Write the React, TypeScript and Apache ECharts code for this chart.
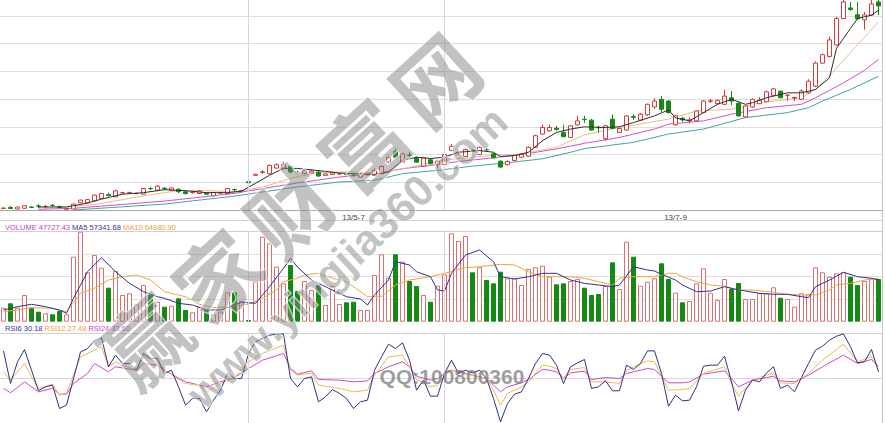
import React, { useEffect, useRef } from 'react';
import * as echarts from 'echarts';

// ---------- price (candles) ----------
const opens = [
  0.15, 0.25, 0.1, 0.17, 0.3, 0.4, 0.35, 0.47, 0.35, 0.08,
  0.1, 0.73, 0.73, 0.93, 1.17, 1.55, 1.33, 1.73, 1.73, 1.65,
  1.6, 2.17, 2.0, 2.2, 2.0, 2.1, 1.83, 1.75, 1.67, 1.73,
  1.43, 1.7, 1.67, 2.07, 1.93, 2.85, 3.5, 3.8, 3.67, 4.23,
  4.23, 4.4, 3.8, 3.67, 3.73, 3.83, 3.5, 3.6, 3.65, 3.6,
  3.52, 3.33, 3.55, 3.5, 3.67, 4.83, 5.9, 4.83, 5.55, 5.27,
  4.43, 5.07, 4.6, 4.6, 6.0, 5.8, 5.4, 6.03, 5.6, 6.1,
  5.67, 4.93, 4.57, 5.0, 5.33, 5.43, 6.33, 7.67, 8.0, 8.25,
  7.83, 7.33, 8.6, 9.15, 9.07, 8.33, 7.2, 9.17, 7.83, 8.07,
  9.45, 9.07, 9.6, 10.4, 11.17, 11.0, 8.6, 9.25, 9.0, 9.0,
  9.83, 10.97, 10.73, 10.67, 11.33, 10.77, 9.4, 10.4, 10.73, 10.93,
  11.57, 12.0, 11.57, 11.3, 11.17, 11.83, 12.5, 14.83, 15.5, 16.67,
  19.33, 20.4, 19.7, 19.2, 19.67, 21.0,
];
const closes = [
  0.2, 0.15, 0.3, 0.43, 0.25, 0.38, 0.37, 0.45, 0.25, 0.1,
  0.6, 1.0, 1.05, 1.5, 1.67, 1.45, 1.93, 1.75, 1.76, 1.67,
  2.17, 2.15, 2.4, 2.13, 2.23, 1.85, 1.67, 1.77, 1.93, 1.6,
  1.77, 1.73, 2.17, 2.05, 1.97, 2.75, 3.6, 3.85, 4.5, 4.57,
  4.6, 3.83, 3.77, 4.0, 3.93, 3.43, 3.65, 3.77, 3.67, 3.58,
  3.5, 3.6, 3.6, 4.0, 4.4, 5.33, 5.33, 5.67, 5.53, 4.83,
  5.27, 4.67, 4.93, 5.6, 6.43, 5.83, 6.1, 5.95, 6.33, 6.07,
  5.27, 4.33, 4.9, 5.5, 5.6, 6.33, 7.5, 8.33, 8.33, 8.13,
  7.4, 8.5, 9.0, 9.12, 8.07, 8.3, 8.5, 8.23, 8.23, 9.5,
  9.35, 9.67, 10.67, 11.0, 10.17, 9.83, 9.5, 9.1, 9.1, 10.0,
  11.0, 11.03, 11.07, 11.5, 11.0, 9.5, 10.5, 11.17, 11.07, 11.93,
  12.23, 11.33, 11.6, 11.35, 12.0, 13.0, 14.83, 15.67, 17.17, 19.33,
  21.0, 20.25, 19.3, 19.7, 20.8, 20.6,
];
const lows = [
  0.1, 0.1, 0.05, 0.15, 0.2, 0.17, 0.15, 0.3, 0.2, 0.05,
  0.05, 0.7, 0.7, 0.9, 1.15, 1.4, 1.3, 1.65, 1.65, 1.6,
  1.57, 2.0, 1.95, 2.05, 1.97, 1.7, 1.55, 1.65, 1.6, 1.55,
  1.4, 1.65, 1.63, 1.8, 1.87, 2.7, 3.45, 3.65, 3.6, 4.2,
  4.2, 3.7, 3.55, 3.6, 3.7, 3.35, 3.45, 3.55, 3.55, 3.5,
  3.35, 3.3, 3.5, 3.45, 3.6, 4.8, 5.25, 4.8, 5.3, 4.8,
  4.4, 4.6, 4.2, 4.55, 5.95, 5.6, 5.35, 5.85, 5.55, 5.95,
  5.2, 4.3, 4.5, 4.95, 5.3, 5.4, 6.3, 7.6, 7.9, 8.0,
  7.35, 7.3, 8.55, 8.8, 8.0, 7.8, 7.0, 8.2, 7.8, 8.0,
  9.1, 9.0, 9.5, 10.2, 9.9, 9.75, 8.5, 8.9, 8.75, 8.95,
  9.8, 10.8, 10.7, 10.6, 10.6, 9.45, 9.35, 10.35, 10.7, 10.9,
  11.53, 11.3, 11.0, 11.0, 11.1, 11.75, 12.4, 14.75, 15.4, 16.6,
  19.25, 20.1, 19.2, 18.2, 19.6, 19.67,
];
const highs = [
  0.25, 0.4, 0.35, 0.5, 0.35, 0.6, 0.5, 0.6, 0.45, 0.15,
  0.65, 1.05, 1.1, 1.55, 1.7, 1.75, 2.05, 1.85, 1.85, 1.75,
  2.2, 2.35, 2.5, 2.3, 2.27, 2.15, 1.9, 1.85, 2.0, 1.8,
  1.8, 1.8, 2.2, 2.15, 2.0, 2.9, 3.65, 4.05, 4.6, 4.7,
  4.85, 4.45, 4.0, 4.05, 4.05, 3.9, 3.7, 3.85, 3.75, 3.65,
  3.65, 3.65, 3.65, 4.2, 4.5, 5.4, 6.2, 5.75, 5.85, 5.4,
  5.3, 5.15, 5.05, 5.65, 6.65, 6.05, 6.2, 6.1, 6.4, 6.25,
  5.75, 5.0, 5.0, 5.55, 5.7, 6.4, 7.6, 8.6, 8.6, 8.5,
  8.6, 8.55, 9.5, 9.5, 9.2, 8.5, 8.6, 9.65, 8.3, 9.55,
  9.65, 9.8, 10.75, 11.3, 11.5, 11.1, 9.6, 9.4, 9.35, 10.05,
  11.1, 11.2, 11.15, 12.15, 12.0, 10.85, 10.55, 11.25, 11.4, 12.05,
  12.3, 12.05, 11.65, 11.45, 12.2, 13.2, 15.0, 15.8, 17.5, 19.5,
  21.5, 21.0, 21.0, 20.0, 21.3, 21.3,
];

// moving averages: [bar index, value]
const ma5: [number, number][] = [
  [5, 0.3], [9, 0.3], [12, 0.7], [14, 1.1], [17, 1.6], [20, 1.75], [23, 2.05], [26, 1.95], [29, 1.75],
  [32, 1.75], [34, 1.9], [36, 2.7], [38, 3.5], [40, 4.2], [42, 4.2], [46, 3.9], [48, 3.73], [53, 3.6],
  [55, 3.83], [57, 5.0], [59, 5.33], [61, 5.2], [63, 5.33], [65, 5.83], [68, 6.0], [70, 5.83], [71, 5.4],
  [73, 5.5], [75, 5.83], [77, 7.0], [79, 7.83], [81, 8.17], [83, 8.4], [86, 8.33], [88, 8.4], [90, 8.83],
  [93, 9.5], [95, 10.1], [96, 9.3], [98, 9.0], [100, 9.83], [102, 10.67], [104, 11.17], [106, 10.67],
  [107, 10.83], [109, 11.33], [112, 11.83], [114, 11.83], [116, 12.17], [118, 13.33], [119, 16.33],
  [121, 18.33], [122, 19.33], [124, 19.67], [125, 20.17],
];
const ma10: [number, number][] = [
  [8, 0.25], [13, 0.55], [17, 1.05], [21, 1.55], [25, 1.95], [29, 1.95], [33, 1.85], [37, 2.3], [41, 3.2],
  [45, 3.8], [50, 3.85], [54, 3.7], [58, 4.3], [62, 4.9], [66, 5.3], [70, 5.5], [74, 5.67], [79, 6.33],
  [83, 7.6], [88, 8.33], [95, 9.17], [99, 10.0], [104, 10.17], [108, 10.83], [114, 11.33], [116, 12.17],
  [119, 14.33], [122, 16.67], [125, 19.0],
];
const ma20: [number, number][] = [
  [5, 0.07], [10, 0.17], [23, 0.9], [33, 1.67], [35, 1.93], [42, 2.73], [48, 3.33], [53, 3.67], [57, 4.17],
  [61, 4.5], [65, 4.9], [70, 5.27], [74, 5.6], [79, 6.17], [83, 6.73], [88, 7.33], [93, 8.17], [95, 8.67],
  [100, 9.0], [104, 9.67], [109, 10.33], [114, 10.67], [116, 11.33], [120, 12.83], [123, 14.1], [125, 15.2],
];
const ma60: [number, number][] = [
  [10, 0.0], [23, 0.6], [33, 1.4], [42, 2.33], [48, 2.83], [53, 3.0], [57, 3.67], [62, 4.0], [67, 4.43],
  [72, 4.77], [77, 5.17], [81, 5.83], [83, 6.2], [90, 6.83], [95, 7.67], [100, 8.17], [106, 9.33],
  [112, 9.83], [115, 10.33], [117, 11.0], [121, 12.17], [125, 13.5],
];

// ---------- volume ----------
const volumes = [
  21000, 27600, 21000, 40000, 21000, 15000, 12600, 11100, 16050, 11100,
  97500, 135000, 74100, 100050, 81000, 51000, 76050, 40050, 42600, 26100,
  55050, 40050, 30000, 22500, 24000, 35100, 17550, 14100, 22500, 17550,
  11100, 15000, 44100, 44100, 31050, 2550, 60000, 127500, 117600, 82500,
  57600, 85050, 46050, 61050, 47550, 55050, 25050, 53550, 26550, 29100,
  30000, 17550, 17550, 70050, 101100, 66000, 101100, 90000, 61050, 53550,
  40050, 30000, 54000, 71100, 132600, 121050, 128550, 74100, 81600, 62550,
  57600, 75000, 65100, 65100, 55050, 79050, 81600, 84000, 67500, 56100,
  57600, 61050, 64050, 51000, 40050, 41550, 53550, 89100, 49050, 120000,
  97500, 54000, 60000, 65100, 87600, 64050, 43500, 29100, 31050, 57600,
  80100, 43500, 32550, 64050, 49050, 58050, 34050, 34050, 42600, 42600,
  51600, 36000, 34050, 22500, 42600, 41550, 81600, 74100, 67500, 72600,
  74100, 67500, 55050, 61050, 65100, 64050,
];
const volMa5: [number, number][] = [
  [0, 17550], [2, 22500], [4, 26100], [6, 22500], [8, 17550], [9, 12600], [10, 35100], [12, 75000],
  [14, 96000], [16, 75000], [18, 57600], [20, 45000], [22, 37500], [23, 35100], [25, 27600], [27, 25050],
  [29, 17550], [31, 17550], [33, 25050], [34, 29100], [36, 27600], [38, 52500], [40, 80100], [41, 95100],
  [42, 82000], [44, 62550], [45, 57600], [47, 47550], [49, 37500], [51, 34050], [52, 25050], [53, 40050],
  [55, 62550], [56, 90000], [58, 85050], [59, 75000], [61, 67500], [62, 47550], [63, 46050], [64, 72600],
  [66, 100050], [68, 107550], [70, 90000], [71, 67500], [73, 64050], [75, 67500], [77, 72600], [79, 72600],
  [81, 62550], [83, 57500], [85, 55050], [87, 52500], [88, 55050], [90, 82500], [92, 77550], [93, 76050],
  [94, 71100], [96, 62550], [97, 55050], [99, 45000], [101, 46050], [103, 52500], [105, 47550], [106, 46050],
  [108, 42600], [110, 41100], [112, 41100], [114, 37500], [115, 36000], [116, 52500], [118, 62550],
  [120, 74100], [122, 67500], [124, 65100], [125, 62550],
];
const volMa10: [number, number][] = [
  [0, 15000], [2, 17550], [4, 21000], [7, 20100], [9, 15000], [11, 42600], [13, 50100], [15, 62550],
  [17, 67500], [19, 70050], [21, 62550], [23, 45000], [26, 37500], [28, 26100], [30, 21000], [32, 22500],
  [35, 26100], [37, 35100], [39, 47550], [40, 60000], [42, 65100], [43, 70050], [45, 72600], [47, 65100],
  [49, 60000], [52, 37500], [54, 37500], [56, 55050], [58, 62550], [61, 67500], [63, 72600], [66, 81000],
  [68, 82500], [71, 86100], [73, 85050], [75, 75000], [77, 67500], [79, 67500], [81, 67500], [83, 65100],
  [85, 60000], [87, 55050], [88, 65100], [90, 67500], [93, 67500], [95, 72600], [96, 72600], [97, 67500],
  [99, 60000], [101, 55050], [103, 53100], [105, 47550], [107, 47550], [110, 44100], [112, 41100],
  [114, 40050], [116, 40050], [118, 47550], [119, 55050], [121, 57600], [123, 62550], [125, 65100],
];

// ---------- RSI ----------
const rsi6 = [
  80.6, 44.1, 68.3, 82.1, 59, 36, 40.4, 42.3, 16.2, 20,
  49.7, 79.5, 83.2, 91.8, 95.5, 62.8, 75.8, 66.5, 66.5, 59,
  77.7, 72.1, 72.1, 55.3, 59, 40.4, 20, 27.4, 27.4, 12.5,
  25.5, 36.7, 55.3, 49.7, 49.7, 77.7, 90.7, 94.4, 98.1, 99.3,
  99.3, 49.7, 40.4, 49.7, 51.6, 23.7, 29.2, 37.4, 33, 27.4,
  16.2, 23.7, 25.5, 59, 73.9, 88.1, 83.2, 89.6, 70.2, 36.7,
  47.9, 30, 30, 55.3, 70.2, 55.3, 59, 56, 59, 49.7,
  27.4, 1.3, 21.8, 32.2, 34.8, 49.7, 66.5, 77.7, 75.8, 64.6,
  44.1, 62.8, 67.2, 71, 38.6, 40.4, 47.1, 36, 36, 64.6,
  59.8, 66.5, 80.6, 80.6, 55.3, 18.8, 31.1, 24.8, 25.5, 40.4,
  63.5, 64.6, 64.6, 74.7, 46, 13.6, 36.7, 47.9, 46, 56,
  62.8, 38.6, 42.3, 34.8, 50.8, 66.5, 81.4, 85.8, 92.6, 97,
  99.5, 85.1, 67.2, 68.3, 82.1, 57.2,
];
const rsi12: [number, number][] = [
  [0, 57.2], [1, 47.9], [3, 66.5], [4, 51.6], [5, 38.6], [7, 43.3], [8, 31.1], [9, 33], [11, 73.9],
  [14, 85.1], [15, 62.8], [16, 68.3], [19, 59], [20, 74.7], [22, 68.3], [23, 59], [26, 44.1], [28, 42.3],
  [29, 34.8], [31, 44.1], [33, 50.8], [35, 68.3], [37, 77.7], [40, 87], [41, 59], [42, 53.4], [44, 56],
  [45, 42.3], [48, 38.6], [50, 34.8], [52, 36.7], [53, 53.4], [55, 73.9], [57, 75.8], [58, 62.8],
  [59, 48.6], [61, 40.4], [62, 42.3], [63, 53.4], [64, 59], [67, 53.4], [69, 49.7], [70, 36.7],
  [71, 19.9], [72, 33], [74, 40.4], [75, 46], [77, 64.6], [78, 63.5], [79, 60.9], [80, 49.7], [81, 59.8],
  [83, 62], [84, 46], [86, 46], [88, 44.1], [89, 59], [92, 69.5], [93, 68.3], [95, 36.7], [97, 37.4],
  [98, 38.6], [100, 55.3], [103, 62.8], [104, 44.1], [105, 30], [107, 47.9], [109, 53.4], [110, 56],
  [111, 44.9], [113, 44.1], [115, 55.3], [117, 70.2], [120, 88.1], [122, 68.3], [124, 73.9], [125, 62.8],
];
const rsi24: [number, number][] = [
  [0, 38.6], [1, 33.8], [3, 46], [5, 34.8], [7, 38.6], [8, 32.2], [9, 32.2], [10, 44.1], [12, 55.3],
  [13, 66.5], [15, 57.2], [16, 62.8], [19, 59], [20, 66.5], [22, 64.6], [23, 59], [26, 46], [28, 42.3],
  [29, 40.4], [31, 46], [33, 50.8], [35, 60.9], [37, 70.2], [40, 77.7], [41, 61], [42, 54.6], [44, 58.3],
  [45, 48.6], [48, 47.9], [50, 46], [52, 47.1], [53, 55.3], [55, 62.8], [57, 68.3], [58, 62.8], [59, 52.3],
  [61, 47.9], [62, 49.7], [63, 55.3], [64, 59], [67, 53.4], [69, 49.7], [70, 42.3], [71, 34.8], [72, 40.4],
  [74, 44.9], [75, 48.6], [77, 59.8], [78, 59], [79, 57.2], [80, 49.7], [81, 56], [83, 58], [84, 48.6],
  [86, 50.8], [88, 49.7], [89, 55.3], [92, 60.9], [93, 59.8], [95, 44.9], [97, 44.9], [98, 46],
  [100, 54.6], [103, 58.3], [104, 49.7], [105, 40.4], [107, 47.9], [109, 50.8], [110, 52.3], [111, 47.1],
  [113, 46], [115, 53.4], [117, 62.8], [120, 75.8], [122, 66.5], [124, 71], [125, 62.8],
];

// ---------- axis texts ----------
const categories = opens.map((_, i) => String(i));
const xTickLabels: Record<number, string> = { 50: '13/5-7', 96: '13/7-9' };
const verticalGridBars = [35, 63];
const volumeLegend = { volume: 'VOLUME 47727.43', ma5: 'MA5 57341.68', ma10: 'MA10 64880.90' };
const rsiLegend = { r6: 'RSI6 30.18', r12: 'RSI12 27.48', r24: 'RSI24 33.60' };
const watermarkChars = ['赢', '家', '财', '富', '网'];
const watermarkUrl = 'www.yingjia360.com';
const watermarkQQ = 'QQ:100800360';

const UP = '#d43c3c';
const UP_VOL = '#d97070';
const DOWN = '#148a14';
const FONT = '"Liberation Sans", Arial, sans-serif';

export default function App() {
  const ref = useRef<HTMLDivElement>(null);
  useEffect(() => {
    const chart = echarts.init(ref.current!, null, { renderer: 'svg' });
    const W = 882;
    const vMark = {
      silent: true,
      symbol: ['none', 'none'],
      label: { show: false },
      lineStyle: { color: '#d6d6d6', type: 'solid', width: 1 },
      emphasis: { disabled: true },
      data: verticalGridBars.map((b) => ({ xAxis: b })),
    };
    const hiddenX = (gi: number) => ({
      type: 'category', gridIndex: gi, data: categories, boundaryGap: true,
      axisLine: { show: false }, axisTick: { show: false }, axisLabel: { show: false }, splitLine: { show: false },
    });
    const lineS = (data: any, color: string, xi: number, z = 3) => ({
      type: 'line', xAxisIndex: xi, yAxisIndex: xi, data, symbol: 'none', showSymbol: false,
      lineStyle: { color, width: 1 }, z, silent: true,
    });
    const candleData = opens.map((o, i) => [o, closes[i], lows[i], highs[i]]);
    const volData = volumes.map((v, i) => {
      const up = closes[i] >= opens[i];
      return {
        value: v,
        itemStyle: up
          ? { color: '#ffffff', borderColor: UP_VOL, borderWidth: 1 }
          : { color: DOWN, borderColor: DOWN, borderWidth: 1 },
      };
    });

    const wmStyle = { fill: 'rgba(128,128,128,0.48)', stroke: 'rgba(255,255,255,0.75)', lineWidth: 1.5 };
    const charCenters = [[143, 339], [215, 273], [288, 208], [361, 143], [433, 77]];
    const graphic: any[] = [
      { type: 'line', shape: { x1: 0, y1: 220.5, x2: W, y2: 220.5 }, style: { stroke: '#d2d2d2', lineWidth: 1 }, silent: true },
      { type: 'line', shape: { x1: W + 0.5, y1: 0, x2: W + 0.5, y2: 423 }, style: { stroke: '#c4c4c4', lineWidth: 1 }, silent: true },
      {
        type: 'text', x: 5, y: 227, silent: true,
        style: {
          text: `{a|${volumeLegend.volume}} {b|${volumeLegend.ma5}} {c|${volumeLegend.ma10}}`,
          fontSize: 7.5, fontFamily: FONT, verticalAlign: 'middle', textVerticalAlign: 'middle',
          rich: {
            a: { fill: '#c83cc8', fontSize: 7.5, fontFamily: FONT },
            b: { fill: '#34349c', fontSize: 7.5, fontFamily: FONT },
            c: { fill: '#f0a030', fontSize: 7.5, fontFamily: FONT },
          },
        },
      },
      {
        type: 'text', x: 5, y: 328, silent: true,
        style: {
          text: `{a|${rsiLegend.r6}} {b|${rsiLegend.r12}} {c|${rsiLegend.r24}}`,
          fontSize: 7.5, fontFamily: FONT, verticalAlign: 'middle', textVerticalAlign: 'middle',
          rich: {
            a: { fill: '#34349c', fontSize: 7.5, fontFamily: FONT },
            b: { fill: '#f0a030', fontSize: 7.5, fontFamily: FONT },
            c: { fill: '#c83cc8', fontSize: 7.5, fontFamily: FONT },
          },
        },
      },
      ...watermarkChars.map((ch, k) => ({
        type: 'text', x: charCenters[k][0], y: charCenters[k][1], rotation: 0.74, z: 100, silent: true,
        style: {
          text: ch, fontSize: 84, fontWeight: 'bold', fontFamily: '"Noto Sans CJK SC", sans-serif',
          align: 'center', textAlign: 'center', verticalAlign: 'middle', textVerticalAlign: 'middle',
          ...wmStyle,
        },
      })),
      {
        type: 'text', x: 347, y: 257, rotation: 0.75, z: 100, silent: true,
        style: {
          text: watermarkUrl, fontSize: 43, fontWeight: 'bold', fontFamily: FONT,
          align: 'center', textAlign: 'center', verticalAlign: 'middle', textVerticalAlign: 'middle',
          ...wmStyle,
        },
      },
      {
        type: 'text', x: 452, y: 376, z: 100, silent: true,
        style: {
          text: watermarkQQ, fontSize: 21, fontWeight: 'bold', fontFamily: FONT,
          align: 'center', textAlign: 'center', verticalAlign: 'middle', textVerticalAlign: 'middle',
          fill: 'rgba(120,120,120,0.72)',
        },
      },
    ];

    const option: any = {
      animation: false,
      backgroundColor: '#ffffff',
      grid: [
        { left: 0, width: W, top: -2, height: 212 },
        { left: 0, width: W, top: 231.7, height: 90 },
        { left: 0, width: W, top: 333.5, height: 89.5 },
      ],
      xAxis: [
        {
          type: 'category', gridIndex: 0, data: categories, boundaryGap: true,
          axisLine: { show: true, onZero: false, lineStyle: { color: '#a6a6a6', width: 1 } },
          axisTick: { show: false },
          splitLine: { show: false },
          axisLabel: {
            show: true,
            interval: (index: number) => xTickLabels[index] !== undefined,
            formatter: (_v: string, index: number) => xTickLabels[index] || '',
            fontSize: 8, color: '#444', fontFamily: FONT, margin: 3,
          },
        },
        hiddenX(1),
        hiddenX(2),
      ],
      yAxis: [
        {
          type: 'value', gridIndex: 0, min: 0, max: 21.2, interval: 2.8, position: 'right',
          axisLine: { show: false }, axisTick: { show: false }, axisLabel: { show: false },
          splitLine: { show: true, lineStyle: { color: ['transparent', '#dedede', '#dedede', '#dedede', '#dedede', '#dedede', '#dedede', '#dedede', 'transparent'], width: 1 } },
        },
        {
          type: 'value', gridIndex: 1, min: 0, max: 135000, interval: 33750, position: 'right',
          axisLine: { show: false }, axisTick: { show: false }, axisLabel: { show: false },
          splitLine: { show: true, lineStyle: { color: ['transparent', '#dedede', '#dedede', '#dedede', '#cfcfcf'], width: 1 } },
        },
        {
          type: 'value', gridIndex: 2, min: 0, max: 100, interval: 50, position: 'right',
          axisLine: { show: false }, axisTick: { show: false }, axisLabel: { show: false },
          splitLine: { show: true, lineStyle: { color: ['transparent', '#d8d8d8', '#cfcfcf'], width: 1 } },
        },
      ],
      series: [
        lineS(ma60, '#45a3a3', 0, 2),
        lineS(ma20, '#d24fca', 0, 2),
        lineS(ma10, '#efbb85', 0, 2),
        {
          type: 'candlestick', xAxisIndex: 0, yAxisIndex: 0, data: candleData, barWidth: 5, silent: true, z: 3,
          itemStyle: { color: '#ffffff', color0: DOWN, borderColor: UP, borderColor0: DOWN, borderWidth: 1 },
          markLine: vMark,
        },
        lineS(ma5, '#2e2e2e', 0, 4),
        {
          type: 'bar', xAxisIndex: 1, yAxisIndex: 1, data: volData, barWidth: 5, silent: true, z: 2,
          markLine: vMark,
        },
        lineS(volMa10, '#f0a53a', 1, 4),
        lineS(volMa5, '#2f2f9a', 1, 4),
        { ...lineS(rsi24, '#cc4acc', 2, 3), markLine: vMark },
        lineS(rsi12, '#f0b850', 2, 3),
        lineS(rsi6, '#2f2f8f', 2, 4),
      ],
      graphic,
    };
    chart.setOption(option);
    return () => chart.dispose();
  }, []);
  return <div ref={ref} style={{ position: 'absolute', left: 0, top: 0, width: 885, height: 423 }} />;
}
